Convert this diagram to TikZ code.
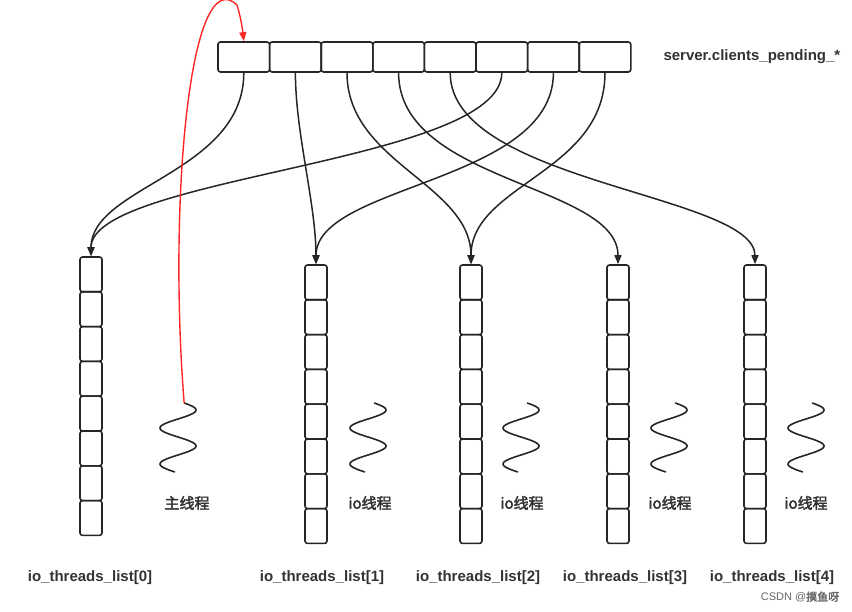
\documentclass[tikz,border=0pt]{standalone}
\usepackage{fontspec}
\setmainfont{Liberation Sans}
\newfontfamily\cjk{Noto Sans CJK SC}[FakeBold=2.5]
\usetikzlibrary{arrows.meta}
\begin{document}
\begin{tikzpicture}[x=1pt,y=-1pt,
  cell/.style={draw=black!85,line width=1.6pt,rounded corners=2.5pt,minimum width=51.6pt,minimum height=30pt,inner sep=0pt},
  vcell/.style={draw=black!85,line width=1.6pt,rounded corners=2.5pt,minimum width=22pt,minimum height=34.8pt,inner sep=0pt},
  conn/.style={draw=black!85,line width=1.5pt,-{Triangle[length=9pt,width=7pt]}},
  lbl/.style={font=\bfseries\fontsize{15}{17}\selectfont,text=black!80},
  clbl/.style={font=\cjk\fontsize{15}{17}\selectfont,text=black!80},
  wave/.style={draw=black!85,line width=1.6pt}]
\useasboundingbox (0,0) rectangle (852,612);
% top cells
\foreach \i in {0,...,7}
  \node[cell] (c\i) at (243.8+51.6*\i,57) {};
\node[lbl,anchor=west] (title) at (660,57) {server.clients\_pending\_*};
% columns
\foreach \i/\x/\t in {0/91/257,1/316/265,2/471/265,3/618/265,4/755/265}{
  \foreach \j in {0,...,7}
    \node[vcell] (l\i-\j) at (\x,\t+17.4+34.8*\j) {};
}
\node[lbl] (n0) at (90,578) {io\_threads\_list[0]};
\node[lbl] (n1) at (322,578) {io\_threads\_list[1]};
\node[lbl] (n2) at (478,578) {io\_threads\_list[2]};
\node[lbl] (n3) at (625,578) {io\_threads\_list[3]};
\node[lbl] (n4) at (772,578) {io\_threads\_list[4]};
% waves
\foreach \k/\cx in {0/178,1/368,2/521,3/669,4/806}{
  \draw[wave] plot[variable=\t,domain=-70:620,samples=90,smooth] ({\cx+18*cos(\t)},{410+0.1*\t});
}
\coordinate (w0) at ({178+18*cos(-70)},403);
\node[clbl] (m0) at (187,503) {主线程};
\node[clbl] (m1) at (370,503) {io线程};
\node[clbl] (m2) at (522,503) {io线程};
\node[clbl] (m3) at (670,503) {io线程};
\node[clbl] (m4) at (806,503) {io线程};
% connectors
\draw[conn] (c0.south) .. controls +(0,100) and +(0,-70) .. (l0-0.north);
\draw[conn] (c5.south) .. controls +(0,90) and +(0,-80) .. (l0-0.north);
\draw[conn] (c1.south) .. controls +(0,60) and +(0,-60) .. (l1-0.north);
\draw[conn] (c6.south) .. controls +(0,110) and +(0,-80) .. (l1-0.north);
\draw[conn] (c2.south) .. controls +(0,90) and +(0,-80) .. (l2-0.north);
\draw[conn] (c7.south) .. controls +(0,100) and +(0,-80) .. (l2-0.north);
\draw[conn] (c3.south) .. controls +(0,110) and +(0,-80) .. (l3-0.north);
\draw[conn] (c4.south) .. controls +(0,110) and +(0,-70) .. (l4-0.north);
% red arrow
\draw[red!85,line width=1.4pt,-{Triangle[length=9pt,width=7pt]}] (w0) .. controls (168,200) and (190,-40) .. (237,5) .. controls (240,15) and (242,25) .. (c0.north);
\node[font=\fontsize{11}{13}\selectfont,text=black!60] (wm) at (800,597) {CSDN @\cjk 摸鱼呀};
\end{tikzpicture}
\end{document}
